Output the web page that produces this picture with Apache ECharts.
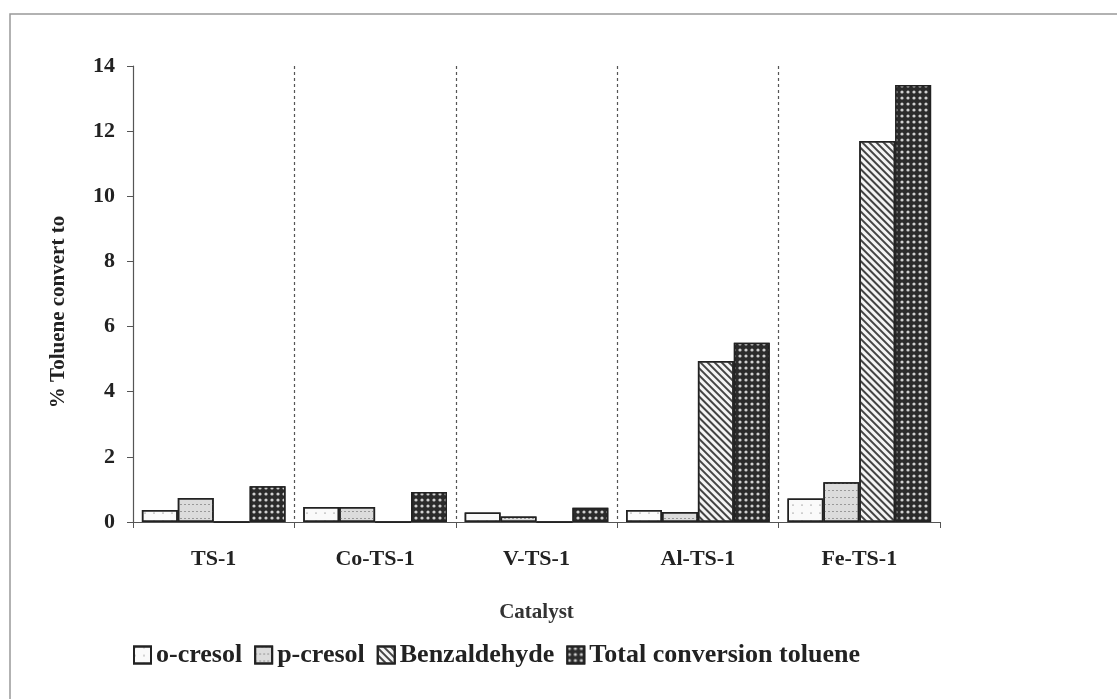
<!DOCTYPE html>
<html>
<head>
<meta charset="utf-8">
<script src="https://cdn.jsdelivr.net/npm/echarts@6/dist/echarts.min.js"></script>
<style>
    html, body { margin: 0; padding: 0; background: #fff; }
    #chart { width: 1117px; height: 699px; }
</style>
</head>
<body>
<div id="chart"></div>
<script>
    const catalysts = ['TS-1', 'Co-TS-1', 'V-TS-1', 'Al-TS-1', 'Fe-TS-1'];
    const oCresol = [0.37, 0.46, 0.29, 0.37, 0.72];
    const pCresol = [0.74, 0.46, 0.17, 0.31, 1.22];
    const benzaldehyde = [0, 0, 0, 4.94, 11.7];
    const totalConversion = [1.1, 0.92, 0.44, 5.5, 13.42];
    const yTicks = [0, 14, 2]; // min, max, interval

    const font = 'Liberation Serif, Times New Roman, serif';
    const chart = echarts.init(document.getElementById('chart'));

    function bar(name, data, color, decal) {
        return {
            name: name,
            type: 'bar',
            data: data,
            barGap: 0,
            barCategoryGap: '11%',
            itemStyle: {
                color: color,
                borderColor: '#222',
                borderWidth: 1.5,
                decal: decal
            }
        };
    }

    chart.setOption({
        animation: false,
        graphic: [{
            type: 'rect',
            shape: { x: 10, y: 14, width: 1130, height: 720 },
            style: { fill: 'none', stroke: '#999', lineWidth: 1.5 },
            silent: true
        }],
        grid: { left: 133, right: 177, top: 66, bottom: 177 },
        legend: {
            bottom: 26,
            left: 128,
            icon: 'rect',
            itemWidth: 17,
            itemHeight: 17,
            itemGap: 12,
            textStyle: { fontFamily: font, fontWeight: 'bold', fontSize: 26, color: '#222' },
            data: ['o-cresol', 'p-cresol', 'Benzaldehyde', 'Total conversion toluene']
        },
        xAxis: {
            type: 'category',
            data: catalysts,
            name: 'Catalyst',
            nameLocation: 'middle',
            nameGap: 80,
            nameTextStyle: { fontFamily: font, fontWeight: 'bold', fontSize: 21, color: '#333' },
            axisLine: { lineStyle: { color: '#555', width: 1.2 } },
            axisTick: { show: true, length: 6, lineStyle: { color: '#555' } },
            axisLabel: { fontFamily: font, fontWeight: 'bold', fontSize: 22, color: '#222', margin: 26 },
            splitLine: {
                show: true,
                showMinLine: false,
                showMaxLine: false,
                lineStyle: { color: '#555', type: [3, 3], width: 1.2 }
            }
        },
        yAxis: {
            type: 'value',
            min: yTicks[0],
            max: yTicks[1],
            interval: yTicks[2],
            name: '% Toluene convert to',
            nameLocation: 'middle',
            nameRotate: 90,
            nameGap: 64,
            nameTextStyle: {
                fontFamily: font, fontWeight: 'bold', fontSize: 21, color: '#222',
                padding: [0, 36, 0, 0]
            },
            axisLine: { show: true, lineStyle: { color: '#555', width: 1.2 } },
            axisTick: { show: true, length: 6, lineStyle: { color: '#555' } },
            axisLabel: { fontFamily: font, fontWeight: 'bold', fontSize: 22, color: '#222', margin: 18 },
            splitLine: { show: false }
        },
        series: [
            bar('o-cresol', oCresol, '#fafafa', {
                symbol: 'circle', symbolSize: 0.5, color: '#333',
                dashArrayX: [[1.5, 7]], dashArrayY: [1.5, 6]
            }),
            bar('p-cresol', pCresol, '#dcdcdc', {
                symbol: 'rect', symbolSize: 1, color: '#999',
                dashArrayX: [[2, 2]], dashArrayY: [1, 6]
            }),
            bar('Benzaldehyde', benzaldehyde, '#f4f4f4', {
                symbol: 'rect', symbolSize: 1, color: '#444',
                dashArrayX: [[1, 0]], dashArrayY: [2, 3], rotation: Math.PI / 4
            }),
            bar('Total conversion toluene', totalConversion, '#2b2b2b', {
                symbol: 'circle', symbolSize: 0.8, color: '#d0d0d0',
                dashArrayX: [[4, 2]], dashArrayY: [4, 2]
            })
        ]
    });
</script>
</body>
</html>
